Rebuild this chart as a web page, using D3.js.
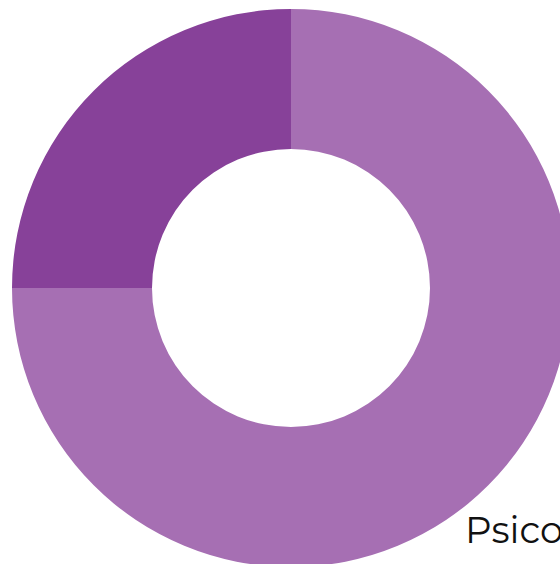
<!DOCTYPE html>
<html>
<head>
<meta charset="utf-8">
<script src="https://cdn.jsdelivr.net/npm/d3@7"></script>
<style>
  html, body { margin: 0; padding: 0; overflow: hidden; background: #fff; }
</style>
</head>
<body>
<div id="chart"></div>
<script>
var categories = ["Psicología", "Otros"];
var values = [75, 25];
var colors = ["#a66fb3", "#874199"];

var width = 560, height = 564;
var cx = 291, cy = 288;
var outerR = 279, innerR = 139;

var svg = d3.select("#chart").append("svg")
    .attr("width", width)
    .attr("height", height);

var pie = d3.pie().sort(null).value(function(d){ return d; });
var arc = d3.arc().innerRadius(innerR).outerRadius(outerR);
var color = d3.scaleOrdinal().domain(categories).range(colors);

var g = svg.append("g").attr("transform", "translate(" + cx + "," + cy + ")");

g.selectAll(".slice")
    .data(pie(values))
    .enter()
    .append("path")
    .attr("class", "slice")
    .attr("d", arc)
    .attr("fill", function(d, i){ return color(categories[i]); });

// label of the big slice, runs past the right edge like in the original
svg.append("text")
    .attr("x", 465)
    .attr("y", 543)
    .attr("font-family", "Montserrat, 'DejaVu Sans', sans-serif")
    .attr("font-size", 37)
    .attr("fill", "#111")
    .text(categories[0]);
</script>
</body>
</html>
